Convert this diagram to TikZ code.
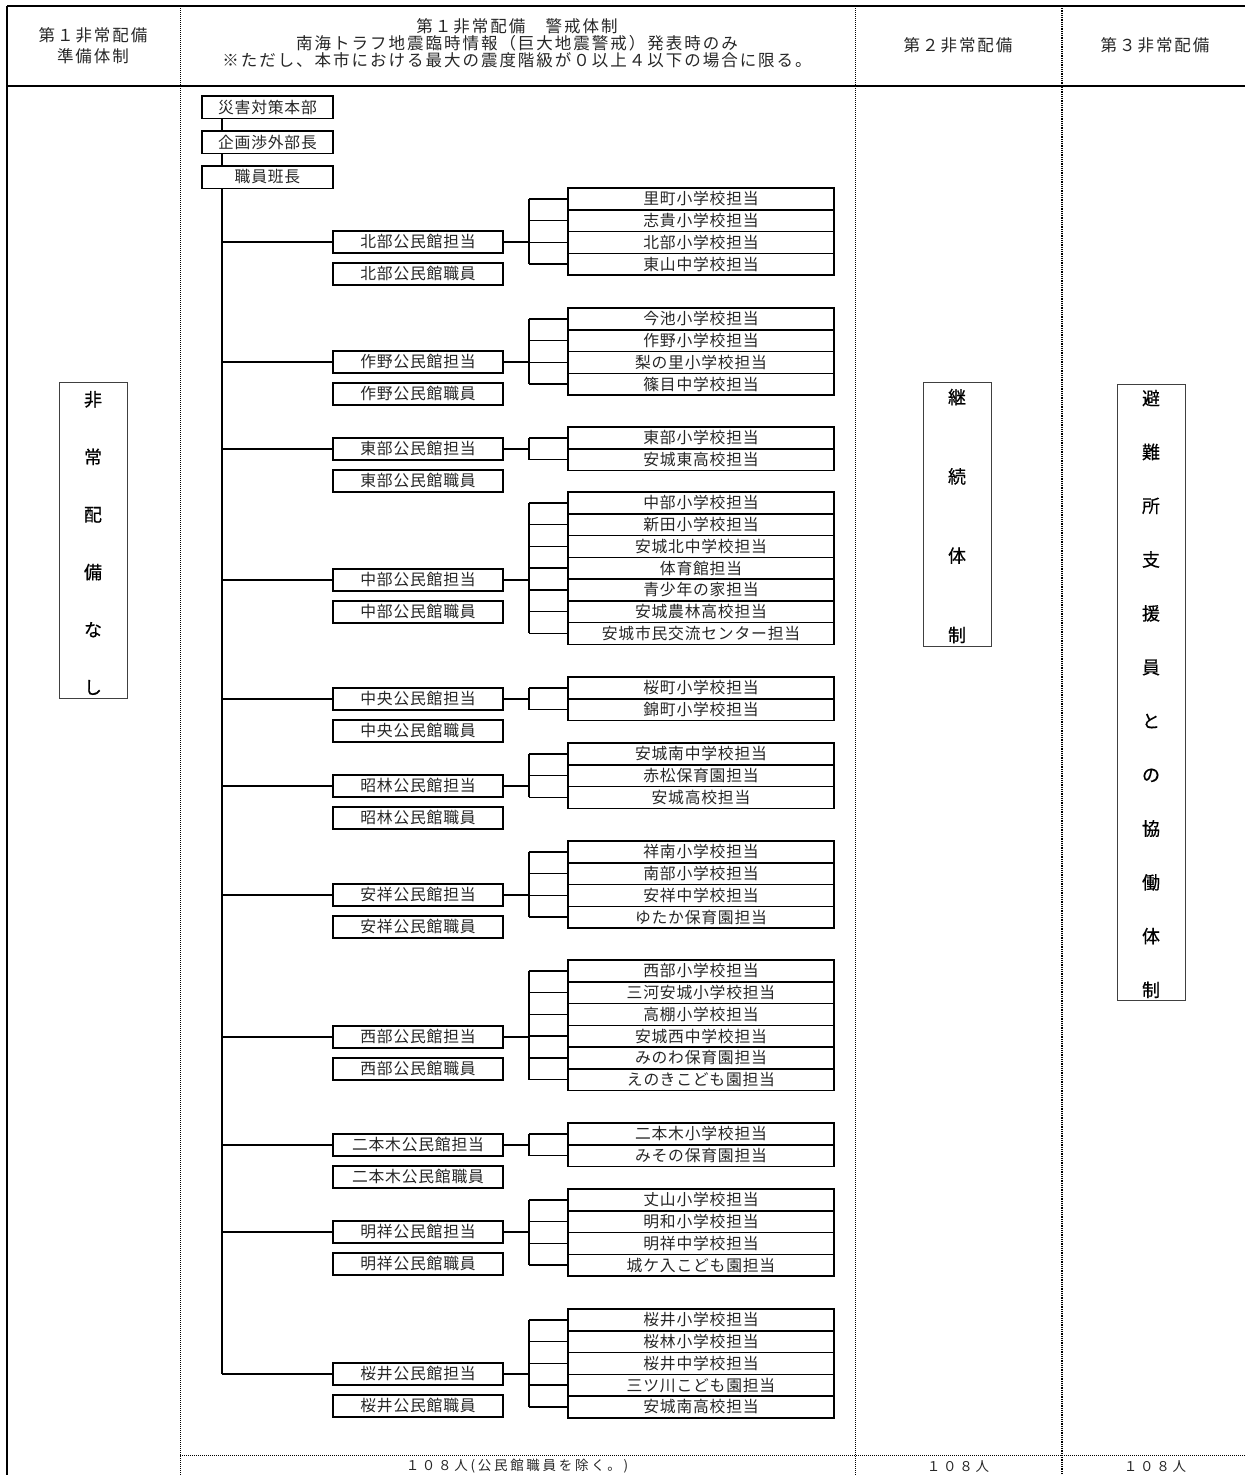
\documentclass[tikz,border=0pt]{standalone}
\usepackage{fontspec}
\newfontfamily\jp[FakeBold=0.5]{Noto Sans CJK JP}
\newfontfamily\jpls[LetterSpace=12]{Noto Sans CJK JP}
\newfontfamily\jpbox[LetterSpace=5]{Noto Sans CJK JP}
\newfontfamily\jpft[LetterSpace=20]{Noto Sans CJK JP}
\tikzset{
  hdr/.style={inner sep=0pt, text=black!85, font=\jpls\fontsize{16.5}{17}\selectfont},
  ftxt/.style={inner sep=0pt, text=black!85, font=\jpft\fontsize{13.5}{15}\selectfont},
  tbox/.style={draw, line width=1.5pt, minimum width=170, minimum height=22, inner sep=0pt, text=black!85, font=\jpbox\fontsize{15.8}{16}\selectfont},
  topbox/.style={draw, line width=1.5pt, minimum width=131, minimum height=22.5, inner sep=0pt, text=black!85, font=\jpbox\fontsize{15.8}{16}\selectfont},
  sbox/.style={draw, line width=1.5pt, minimum width=266, minimum height=21.75, inner sep=0pt, text=black!85, font=\jpbox\fontsize{15.8}{16}\selectfont},
  conn/.style={line width=1.5pt},
  vbox/.style={draw=black!75, line width=0.8pt, inner sep=0pt},
  vtxt/.style={inner sep=0pt, align=center},
  frame/.style={line width=2.4pt},
  dotline/.style={line width=1pt, dash pattern=on 1pt off 1pt},
  dotthick/.style={line width=1.8pt, dash pattern=on 1pt off 0.8pt},
}
\newcommand\mkgroup[6]{%
  \node[tbox] (#1t) at (418,#2) {#4};
  \node[tbox] (#1k) at (418,#2+32) {#5};
  \draw[conn] (T |- #1t.west) -- (#1t.west);
  \foreach \s [count=\i] in {#6} {
    \node[sbox] (#1s\i) at (701,{#3+(\i-0.5)*21.75}) {\s};
    \draw[conn] (#1s\i.west -| B) -- (#1s\i.west);
    \xdef\lastn{\i}
  }
  \draw[conn] (#1t.east) -- (#1t.east -| B);
  \draw[conn] (#1s1.west -| B) -- (#1s\lastn.west -| B);
}
\begin{document}
\begin{tikzpicture}[x=1pt,y=-1pt]
\useasboundingbox (0,0) rectangle (1245,1475);
% table frame
\draw[frame] (7,6) -- (1245,6);
\draw[frame] (7,86) -- (1245,86);
\draw[frame] (7,6) -- (7,1475);
\draw[dotline] (180,6) -- (180,1475);
\draw[dotline] (855,6) -- (855,1475);
\draw[dotthick] (1062,6) -- (1062,1475);
\draw[dotline] (180,1455) -- (1245,1455);
% header
\node[hdr] (h1a) at (93,35) {第１非常配備};
\node[hdr] (h1b) at (93,56) {準備体制};
\node[hdr] (h2a) at (517,26) {第１非常配備　警戒体制};
\node[hdr] (h2b) at (517,43) {南海トラフ地震臨時情報（巨大地震警戒）発表時のみ};
\node[hdr] (h2c) at (517,60) {※ただし、本市における最大の震度階級が０以上４以下の場合に限る。};
\node[hdr] (h3) at (958,45) {第２非常配備};
\node[hdr] (h4) at (1155,45) {第３非常配備};
% footer
\node[ftxt] (f2) at (517,1466) {１０８人(公民館職員を除く。)};
\node[ftxt] (f3) at (958,1466) {１０８人};
\node[ftxt] (f4) at (1155,1466) {１０８人};
% vertical boxes
\node[vbox, minimum width=68, minimum height=316] (nb) at (93,540) {};
\node[vtxt, font=\jp\fontsize{18}{57.6}\selectfont] (nt) at (93,543) {非\\常\\配\\備\\な\\し};
\node[vbox, minimum width=68, minimum height=264] (kb) at (957,514) {};
\node[vtxt, font=\jp\fontsize{18}{79.3}\selectfont] (kt) at (957,516) {継\\続\\体\\制};
\node[vbox, minimum width=68, minimum height=616] (hb) at (1151,692) {};
\node[vtxt, font=\jp\fontsize{18}{53.8}\selectfont] (ht) at (1151,694) {避\\難\\所\\支\\援\\員\\と\\の\\協\\働\\体\\制};
% tree
\coordinate (T) at (222,0);
\coordinate (B) at (529,0);
\node[topbox] (n1) at (267.5,107) {災害対策本部};
\node[topbox] (n2) at (267.5,142) {企画渉外部長};
\node[topbox] (n3) at (267.5,177) {職員班長};
\draw[conn] (n1.south -| T) -- (n2.north -| T);
\draw[conn] (n2.south -| T) -- (n3.north -| T);
\mkgroup{ga}{242}{188}{北部公民館担当}{北部公民館職員}{里町小学校担当,志貴小学校担当,北部小学校担当,東山中学校担当}
\mkgroup{gb}{362}{308}{作野公民館担当}{作野公民館職員}{今池小学校担当,作野小学校担当,梨の里小学校担当,篠目中学校担当}
\mkgroup{gc}{449}{427}{東部公民館担当}{東部公民館職員}{東部小学校担当,安城東高校担当}
\mkgroup{gd}{580}{492}{中部公民館担当}{中部公民館職員}{中部小学校担当,新田小学校担当,安城北中学校担当,体育館担当,青少年の家担当,安城農林高校担当,安城市民交流センター担当}
\mkgroup{ge}{699}{677}{中央公民館担当}{中央公民館職員}{桜町小学校担当,錦町小学校担当}
\mkgroup{gf}{786}{743}{昭林公民館担当}{昭林公民館職員}{安城南中学校担当,赤松保育園担当,安城高校担当}
\mkgroup{gg}{895}{841}{安祥公民館担当}{安祥公民館職員}{祥南小学校担当,南部小学校担当,安祥中学校担当,ゆたか保育園担当}
\mkgroup{gh}{1037}{960}{西部公民館担当}{西部公民館職員}{西部小学校担当,三河安城小学校担当,高棚小学校担当,安城西中学校担当,みのわ保育園担当,えのきこども園担当}
\mkgroup{gi}{1145}{1123}{二本木公民館担当}{二本木公民館職員}{二本木小学校担当,みその保育園担当}
\mkgroup{gj}{1232}{1189}{明祥公民館担当}{明祥公民館職員}{丈山小学校担当,明和小学校担当,明祥中学校担当,城ケ入こども園担当}
\mkgroup{gk}{1374}{1309}{桜井公民館担当}{桜井公民館職員}{桜井小学校担当,桜林小学校担当,桜井中学校担当,三ツ川こども園担当,安城南高校担当}
\draw[conn] (n3.south -| T) -- (T |- gkt.west);
\end{tikzpicture}
\end{document}
